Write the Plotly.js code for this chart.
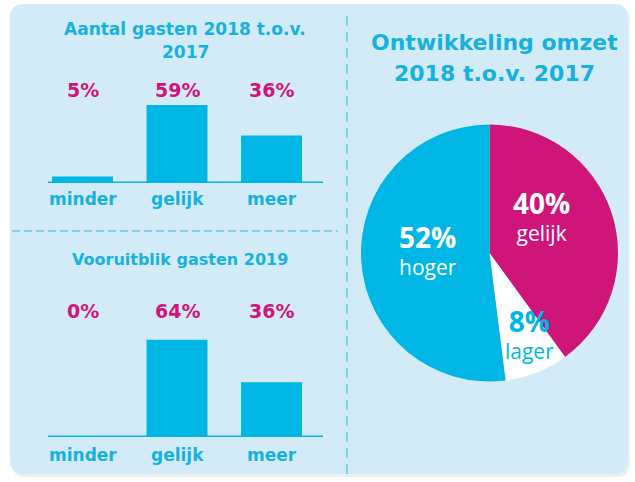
<!DOCTYPE html>
<html><head><meta charset="utf-8">
<script src="https://cdn.plot.ly/plotly-3.0.1.min.js"></script>
<style>html,body{margin:0;padding:0;background:#fff}#chart{width:635px;height:482px}</style>
</head><body><div id="chart"></div>
<script>
// ---- data ----
const categories = ["minder", "gelijk", "meer"];
const guests2018 = [5, 59, 36];
const outlook2019 = [0, 64, 36];
const revenueLabels = ["gelijk", "lager", "hoger"];
const revenueValues = [40, 8, 52];
const titleTop = "Aantal gasten 2018 t.o.v.<br>2017";
const titleBottom = "Vooruitblik gasten 2019";
const titlePie = "Ontwikkeling omzet<br>2018 t.o.v. 2017";

// ---- layout helpers ----
const W = 635, H = 482;
const px = x => x / W, py = y => 1 - y / H;
const BLUE = "#00b6e4", MAG = "#cf1579", TBLUE = "#16b1df", PANEL = "#d3ebf7", DASH = "#86cfea";
const BOLDF = "DejaVu Sans, sans-serif";
const PIEF = "Open Sans, sans-serif";

const pieLabelPos = [
  {x: 541, y: 216, col: "#ffffff"},
  {x: 529, y: 333, col: BLUE},
  {x: 428, y: 249, col: "#ffffff"}
];

const traces = [
  {type: "bar", x: categories, y: guests2018, xaxis: "x", yaxis: "y",
   marker: {color: BLUE, line: {width: 0}}, hoverinfo: "none"},
  {type: "bar", x: categories, y: outlook2019, xaxis: "x2", yaxis: "y2",
   marker: {color: BLUE, line: {width: 0}}, hoverinfo: "none"},
  {type: "pie", labels: revenueLabels, values: revenueValues, sort: false,
   direction: "clockwise", rotation: 0, textinfo: "none", hoverinfo: "none",
   marker: {colors: [MAG, "#ffffff", BLUE], line: {width: 0}},
   domain: {x: [px(361), px(618)], y: [py(382), py(124)]}, showlegend: false}
];

function roundRect(x0, y0, x1, y1, r) {
  const X = v => px(v).toFixed(5), Y = v => py(v).toFixed(5);
  return `M ${X(x0 + r)} ${Y(y0)} L ${X(x1 - r)} ${Y(y0)} Q ${X(x1)} ${Y(y0)} ${X(x1)} ${Y(y0 + r)} ` +
         `L ${X(x1)} ${Y(y1 - r)} Q ${X(x1)} ${Y(y1)} ${X(x1 - r)} ${Y(y1)} L ${X(x0 + r)} ${Y(y1)} ` +
         `Q ${X(x0)} ${Y(y1)} ${X(x0)} ${Y(y1 - r)} L ${X(x0)} ${Y(y0 + r)} Q ${X(x0)} ${Y(y0)} ${X(x0 + r)} ${Y(y0)} Z`;
}

const shapes = [
  {type: "path", xref: "paper", yref: "paper", path: roundRect(12, 6, 630, 477, 14),
   fillcolor: "rgba(120,150,170,0.15)", line: {width: 0}, layer: "below"},
  {type: "path", xref: "paper", yref: "paper", path: roundRect(10, 4, 628, 474, 14),
   fillcolor: PANEL, line: {width: 0}, layer: "below"},
  {type: "line", xref: "paper", yref: "paper", x0: px(347), x1: px(347), y0: py(16), y1: py(474),
   line: {color: DASH, width: 2, dash: "10px,6px"}},
  {type: "line", xref: "paper", yref: "paper", x0: px(12), x1: px(338), y0: py(231), y1: py(231),
   line: {color: DASH, width: 2, dash: "8px,4px"}},
  {type: "line", xref: "paper", yref: "y", x0: px(48), x1: px(323), y0: 0, y1: 0,
   line: {color: BLUE, width: 3}},
  {type: "line", xref: "paper", yref: "y2", x0: px(48), x1: px(323), y0: 0, y1: 0,
   line: {color: BLUE, width: 3}}
];

const annotations = [];
function txt(text, x, y, size, color, family, xref) {
  annotations.push({text: text, xref: xref || "paper", yref: "paper", x: x, y: y,
    xanchor: "center", yanchor: "middle", showarrow: false,
    font: {family: family, size: size, color: color}});
}

titleTop.split("<br>").forEach((line, i) => txt("<b>" + line + "</b>", px(185), py([29, 52][i]), 17, TBLUE, BOLDF));
txt("<b>" + titleBottom + "</b>", px(180), py(259), 16, TBLUE, BOLDF);
titlePie.split("<br>").forEach((line, i) => txt("<b>" + line + "</b>", px(494), py([42, 73][i]), 22, TBLUE, BOLDF));

categories.forEach((c, i) => {
  txt("<b>" + guests2018[i] + "%</b>", c, py(90), 19, MAG, BOLDF, "x");
  txt("<b>" + c + "</b>", c, py(199), 17, TBLUE, BOLDF, "x");
  txt("<b>" + outlook2019[i] + "%</b>", c, py(311), 19, MAG, BOLDF, "x2");
  txt("<b>" + c + "</b>", c, py(455), 17, TBLUE, BOLDF, "x2");
});

revenueLabels.forEach((l, i) => {
  const p = pieLabelPos[i];
  txt('<b><span style="font-size:28px">' + revenueValues[i] + "%</span></b><br>" + l,
      px(p.x), py(p.y), 21, p.col, PIEF);
});

const axX = dom => ({domain: dom, type: "category", range: [-0.5, 2.5], showticklabels: false,
  showgrid: false, zeroline: false, showline: false, ticks: "", fixedrange: true});

const layout = {
  width: W, height: H, margin: {l: 0, r: 0, t: 0, b: 0},
  paper_bgcolor: "#ffffff", plot_bgcolor: "rgba(0,0,0,0)",
  showlegend: false, bargap: 0.355,
  xaxis: Object.assign(axX([px(35.25), px(318.75)]), {anchor: "y"}),
  yaxis: {domain: [py(183), py(183 - 60 * 1.32)], range: [0, 60], visible: false, fixedrange: true, anchor: "x"},
  xaxis2: Object.assign(axX([px(35.25), px(318.75)]), {anchor: "y2"}),
  yaxis2: {domain: [py(437), py(437 - 70 * 1.52)], range: [0, 70], visible: false, fixedrange: true, anchor: "x2"},
  shapes: shapes, annotations: annotations
};

Plotly.newPlot("chart", traces, layout, {displayModeBar: false, staticPlot: true});
</script>
</body></html>
